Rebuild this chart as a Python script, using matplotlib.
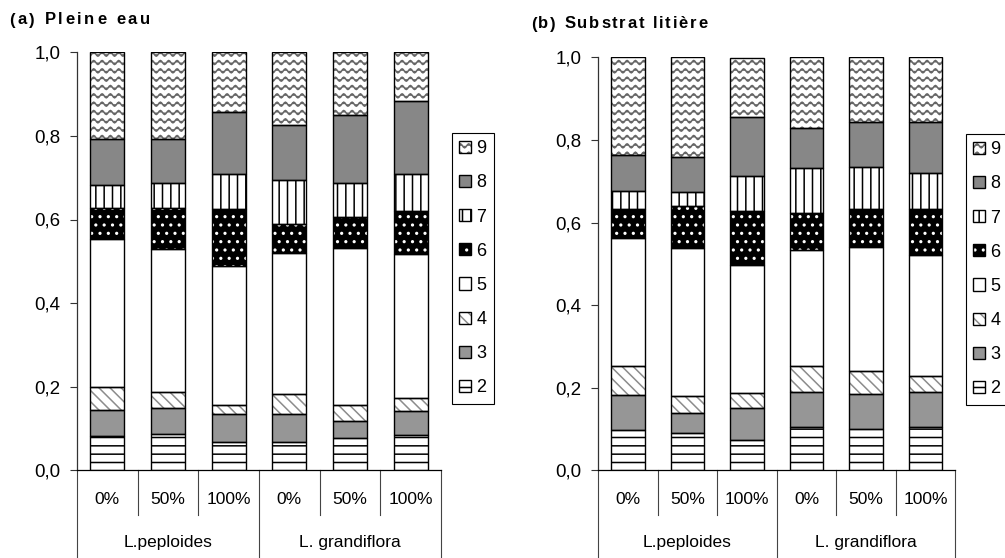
import warnings
warnings.filterwarnings("ignore")
import numpy as np
import matplotlib
matplotlib.use("Agg")
import matplotlib.pyplot as plt
from matplotlib import hatch as mhatch
from matplotlib.path import Path
from matplotlib.patches import Patch
from matplotlib.legend_handler import HandlerTuple
from matplotlib.font_manager import FontProperties
import matplotlib.transforms as mtransforms

# ---------------- data ----------------
categories = ["0%", "50%", "100%", "0%", "50%", "100%"]
groups = ["L.peploides", "L. grandiflora"]
series_names = ["2", "3", "4", "5", "6", "7", "8", "9"]

# (a) Pleine eau
a_s2 = [0.081, 0.088, 0.068, 0.068, 0.077, 0.085]
a_s3 = [0.063, 0.061, 0.066, 0.066, 0.042, 0.057]
a_s4 = [0.056, 0.039, 0.023, 0.049, 0.038, 0.031]
a_s5 = [0.354, 0.342, 0.332, 0.336, 0.376, 0.345]
a_s6 = [0.074, 0.098, 0.135, 0.071, 0.073, 0.103]
a_s7 = [0.054, 0.059, 0.085, 0.104, 0.082, 0.088]
a_s8 = [0.111, 0.106, 0.147, 0.133, 0.161, 0.175]
a_s9 = [0.207, 0.207, 0.144, 0.174, 0.151, 0.116]

# (b) Substrat litière
b_s2 = [0.097, 0.090, 0.074, 0.105, 0.101, 0.105]
b_s3 = [0.085, 0.049, 0.077, 0.085, 0.084, 0.085]
b_s4 = [0.070, 0.040, 0.035, 0.062, 0.055, 0.038]
b_s5 = [0.310, 0.359, 0.312, 0.281, 0.301, 0.293]
b_s6 = [0.071, 0.102, 0.130, 0.091, 0.091, 0.112]
b_s7 = [0.044, 0.034, 0.084, 0.108, 0.103, 0.087]
b_s8 = [0.086, 0.085, 0.143, 0.097, 0.109, 0.124]
b_s9 = [0.237, 0.241, 0.144, 0.171, 0.156, 0.156]

yticks = [0.0, 0.2, 0.4, 0.6, 0.8, 1.0]
ytick_labels = ["0,0", "0,2", "0,4", "0,6", "0,8", "1,0"]

# ---------------- custom wave hatch ----------------
class WaveHatch(mhatch.HatchPatternBase):
    NPER = 8
    def __init__(self, hatch, density):
        self.num_lines = int(hatch.count('~') * density)
        self.npts = self.num_lines * self.NPER + 1 if self.num_lines else 0
        self.num_vertices = self.num_lines * self.npts

    def set_vertices_and_codes(self, vertices, codes):
        n = self.num_lines
        x = np.linspace(0.0, 1.0, self.npts)
        amp = 0.24 / n
        yoff = amp * np.sin(2 * np.pi * n * x)
        for i in range(n):
            s = (i + 0.5) / n
            sl = slice(i * self.npts, (i + 1) * self.npts)
            vertices[sl, 0] = x
            vertices[sl, 1] = s + yoff
            codes[sl] = Path.LINETO
            codes[i * self.npts] = Path.MOVETO

if WaveHatch not in mhatch._hatch_types:
    mhatch._hatch_types.append(WaveHatch)

plt.rcParams['font.family'] = ['Liberation Sans', 'DejaVu Sans']
plt.rcParams['hatch.linewidth'] = 1.1

# style per series: (face, hatchcolor, hatch)
styles = {
    "2": ("white", "black", "--"),
    "3": ("#969696", "#969696", None),
    "4": ("white", "#8c8c8c", "\\\\\\"),
    "5": ("white", "white", None),
    "6": ("black", "white", ".."),
    "7": ("white", "black", "||"),
    "8": ("#878787", "#878787", None),
    "9": ("white", "#666666", "~~"),
}

W, H = 1005, 558
fig = plt.figure(figsize=(W / 100, H / 100), dpi=100)

axA = fig.add_axes([77 / W, 1 - 470.3 / H, (441 - 77) / W, (470.3 - 52.3) / H])
axB = fig.add_axes([598.3 / W, 1 - 470.3 / H, (955.3 - 598.3) / W, (470.3 - 57.3) / H])

x = np.arange(len(categories))
width = 0.56

def draw(ax, data):
    bottom = np.zeros(len(categories))
    for name, vals in zip(series_names, data):
        vals = np.array(vals)
        face, hc, h = styles[name]
        ax.bar(x, vals, bottom=bottom, width=width, color=face, edgecolor=hc,
               linewidth=0, hatch=h, zorder=2)
        ax.bar(x, vals, bottom=bottom, width=width, fill=False, edgecolor="black",
               linewidth=1.0, zorder=3)
        bottom += vals
    ax.set_xlim(-0.5, len(categories) - 0.5)
    ax.set_ylim(0, 1.0)
    ax.set_yticks(yticks)
    ax.set_yticklabels(ytick_labels, fontsize=13.5)
    ax.tick_params(axis='y', length=5, width=0.8, pad=7, color="#333333")
    ax.set_xticks([])
    for sp in ["top", "right"]:
        ax.spines[sp].set_visible(False)
    ax.spines["left"].set_linewidth(0.9)
    ax.spines["bottom"].set_linewidth(0.9)
    ax.spines["left"].set_color("#333333")
    ax.spines["bottom"].set_color("black")

    tr = mtransforms.blended_transform_factory(ax.transData, fig.transFigure)
    y_axis = 1 - 470.3 / H
    y_inner = 1 - 515 / H
    for i in range(len(categories)):
        ax.text(i, 1 - 500 / H, categories[i], transform=tr, ha="center",
                va="center", fontsize=12.5)
    for b in [0.5, 1.5, 3.5, 4.5]:
        ax.plot([b, b], [y_axis, y_inner], transform=tr, color="#444444",
                lw=0.8, clip_on=False)
    for b in [-0.5, 2.5, 5.5]:
        ax.plot([b, b], [y_axis, 0], transform=tr, color="#444444",
                lw=0.8, clip_on=False)
    for gi, g in enumerate(groups):
        ax.text(gi * 3 + 1, 1 - 543 / H, g, transform=tr, ha="center",
                va="center", fontsize=12.5)

draw(axA, [a_s2, a_s3, a_s4, a_s5, a_s6, a_s7, a_s8, a_s9])
draw(axB, [b_s2, b_s3, b_s4, b_s5, b_s6, b_s7, b_s8, b_s9])

# titles with letter spacing (tracking)
renderer = fig.canvas.get_renderer()
def tracked_text(x_px, y_px, s, size, tracking_px):
    prop = FontProperties(family=['Liberation Sans', 'DejaVu Sans'],
                          weight='bold', size=size)
    for i, ch in enumerate(s):
        if ch == " ":
            continue
        w = renderer.get_text_width_height_descent(s[:i], prop, ismath=False)[0] if i else 0
        xx = x_px + w + i * tracking_px
        fig.text(xx / W, 1 - y_px / H, ch, fontproperties=prop, va="center",
                 ha="left")

tracked_text(9, 20, "(a) Pleine eau", 12, 2.6)
tracked_text(531, 24, "(b) Substrat litière", 12, 1.8)

def legend_handles():
    hs, ls = [], []
    for name in reversed(series_names):
        face, hc, h = styles[name]
        p1 = Patch(facecolor=face, edgecolor=hc, linewidth=0, hatch=h)
        p2 = Patch(fill=False, edgecolor="black", linewidth=1.0)
        hs.append((p1, p2))
        ls.append(name)
    return hs, ls

for anchor in [(452 / W, 1 - 133 / H), (966 / W, 1 - 134 / H)]:
    hs, ls = legend_handles()
    leg = fig.legend(hs, ls, loc="upper left", bbox_to_anchor=anchor,
                     bbox_transform=fig.transFigure, fontsize=13,
                     handlelength=0.66, handleheight=0.66, handletextpad=0.3,
                     labelspacing=0.95, borderpad=0.4, borderaxespad=0,
                     fancybox=False, framealpha=1,
                     handler_map={tuple: HandlerTuple(ndivide=1)})
    leg.get_frame().set_edgecolor("black")
    leg.get_frame().set_linewidth(0.8)

fig.savefig("out.png", dpi=100)
